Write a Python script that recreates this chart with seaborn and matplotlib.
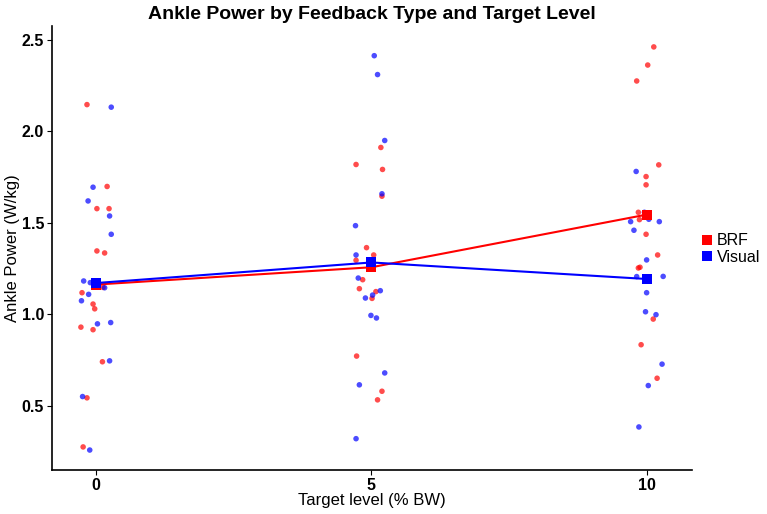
import numpy as np
import pandas as pd
import matplotlib
matplotlib.use("Agg")
import matplotlib.pyplot as plt
from matplotlib.lines import Line2D
import seaborn as sns

# ---- data ----
levels = [0, 5, 10]
feedback_types = ["BRF", "Visual"]

brf_0 = [2.145, 1.698, 1.577, 1.577, 1.346, 1.335, 1.118, 1.056, 1.030, 1.147, 0.930, 0.916, 0.741, 0.544, 0.276]
brf_0_jit = [-0.16, 0.205, 0.02, 0.24, 0.02, 0.16, -0.25, -0.05, -0.02, 0.13, -0.27, -0.05, 0.12, -0.16, -0.23]
vis_0 = [2.131, 1.694, 1.619, 1.537, 1.437, 1.182, 1.173, 1.145, 1.109, 1.074, 0.948, 0.955, 0.746, 0.551, 0.259]
vis_0_jit = [0.28, -0.05, -0.14, 0.25, 0.28, -0.22, -0.10, 0.16, -0.13, -0.26, 0.03, 0.27, 0.25, -0.24, -0.11]

brf_5 = [1.911, 1.818, 1.791, 1.645, 1.364, 1.324, 1.295, 1.189, 1.140, 1.124, 1.087, 0.772, 0.580, 0.533, 1.282]
brf_5_jit = [0.17, -0.28, 0.20, 0.19, -0.09, 0.04, -0.28, -0.16, -0.22, 0.08, 0.01, -0.27, 0.19, 0.11, 0.02]
vis_5 = [2.412, 2.309, 1.949, 1.658, 1.484, 1.324, 1.198, 1.105, 1.089, 1.129, 0.994, 0.980, 0.680, 0.615, 0.321]
vis_5_jit = [0.05, 0.11, 0.24, 0.19, -0.29, -0.28, -0.24, 0.02, -0.11, 0.16, -0.01, 0.09, 0.24, -0.22, -0.28]

brf_10 = [2.460, 2.361, 2.274, 1.816, 1.752, 1.707, 1.557, 1.517, 1.437, 1.324, 1.257, 1.253, 0.974, 0.834, 0.651]
brf_10_jit = [0.12, 0.01, -0.19, 0.21, -0.02, -0.02, -0.16, -0.14, -0.02, 0.19, -0.13, -0.16, 0.11, -0.11, 0.18]
vis_10 = [1.780, 1.557, 1.506, 1.519, 1.506, 1.459, 1.297, 1.206, 1.207, 1.118, 1.014, 0.998, 0.728, 0.611, 0.385]
vis_10_jit = [-0.20, -0.05, -0.30, 0.03, 0.22, -0.24, -0.01, -0.19, 0.29, -0.01, -0.03, 0.16, 0.27, 0.02, -0.15]

colors = {"BRF": "#FF0000", "Visual": "#0000FF"}

groups = [
    ("BRF", 0, brf_0, brf_0_jit), ("Visual", 0, vis_0, vis_0_jit),
    ("BRF", 5, brf_5, brf_5_jit), ("Visual", 5, vis_5, vis_5_jit),
    ("BRF", 10, brf_10, brf_10_jit), ("Visual", 10, vis_10, vis_10_jit),
]
rows = []
for fb, lvl, vals, jit in groups:
    for v, j in zip(vals, jit):
        rows.append({"feedback": fb, "level": lvl, "power": v, "xj": lvl + j})
df = pd.DataFrame(rows)

# ---- plot ----
sns.set_theme(style="white")
plt.rcParams["font.family"] = ["Liberation Sans", "DejaVu Sans"]
plt.rcParams["text.color"] = "black"

fig = plt.figure(figsize=(7.67, 5.14), dpi=100)
ax = fig.add_axes([0.0674, 0.0856, 0.8346, 0.8634])

sns.scatterplot(data=df, x="xj", y="power", hue="feedback", hue_order=feedback_types,
                palette=colors, s=16, alpha=0.7, linewidth=0, legend=False, ax=ax, zorder=2)
sns.lineplot(data=df, x="level", y="power", hue="feedback", hue_order=feedback_types,
             palette=colors, estimator="mean", errorbar=None, marker="s", markersize=7.5,
             markeredgewidth=0, linewidth=1.5, legend=False, ax=ax, zorder=3)

ax.set_xlim(-0.8, 10.81)
ax.set_ylim(0.15, 2.573)
ax.set_xticks(levels)
ax.set_xticklabels([str(l) for l in levels])
ax.set_yticks([0.5, 1.0, 1.5, 2.0, 2.5])
ax.set_yticklabels(["0.5", "1.0", "1.5", "2.0", "2.5"])

for lab in ax.get_xticklabels() + ax.get_yticklabels():
    lab.set_fontweight("bold")
    lab.set_fontsize(11.5)
    lab.set_color("black")
ax.tick_params(axis="both", which="major", length=3.5, width=0.8, color="black",
               bottom=True, left=True, pad=2)

ax.set_xlabel("Target level (% BW)", fontsize=12, color="black", labelpad=0)
ax.set_ylabel("Ankle Power (W/kg)", fontsize=12, color="black", labelpad=1)
ax.set_title("Ankle Power by Feedback Type and Target Level", fontsize=14,
             fontweight="bold", color="black", pad=5)

sns.despine(ax=ax)
for side in ["left", "bottom"]:
    ax.spines[side].set_color("black")
    ax.spines[side].set_linewidth(1.2)
ax.grid(False)

handles = [Line2D([0], [0], marker="s", color=colors[f], linestyle="none",
                  markersize=7, markeredgewidth=0) for f in feedback_types]
fig.legend(handles, feedback_types, loc="center left", bbox_to_anchor=(0.905, 0.515),
           frameon=False, fontsize=11.5, handlelength=0.6, handletextpad=0.3,
           labelspacing=0.1, borderpad=0, labelcolor="black")

fig.savefig("out.png", dpi=100, facecolor="white")
